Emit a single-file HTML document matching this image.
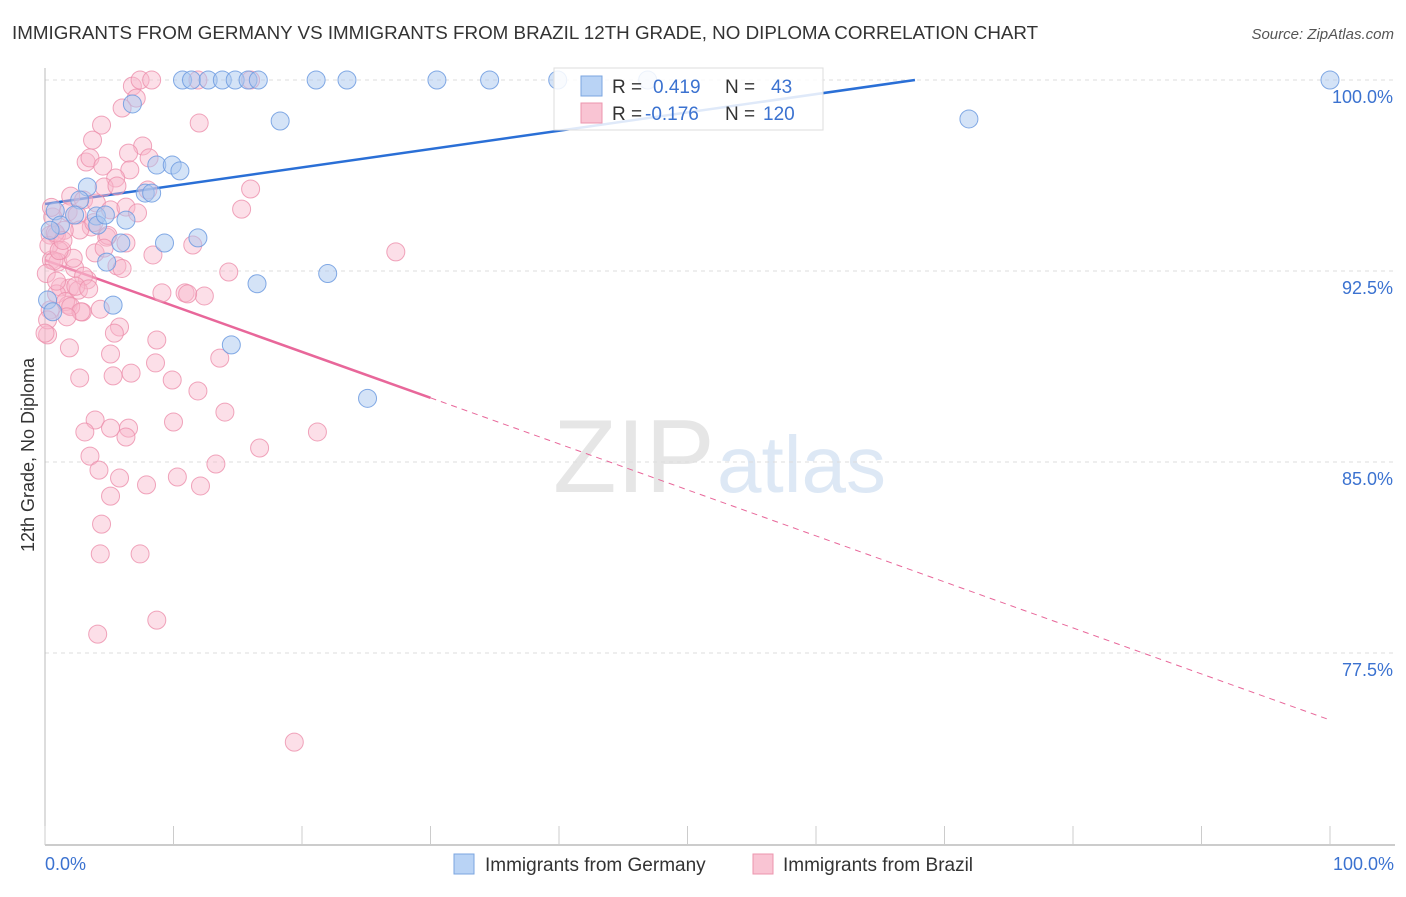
<!DOCTYPE html>
<html><head><meta charset="utf-8"><style>
body{margin:0;background:#fff;font-family:"Liberation Sans",sans-serif}
svg text{font-family:"Liberation Sans",sans-serif}
</style></head><body>
<svg id="chart" width="1406" height="892" viewBox="0 0 1406 892">
<text x="12" y="39" font-size="18.8" fill="#333">IMMIGRANTS FROM GERMANY VS IMMIGRANTS FROM BRAZIL 12TH GRADE, NO DIPLOMA CORRELATION CHART</text>
<text x="1394" y="39" font-size="15" fill="#555" text-anchor="end" font-style="italic">Source: ZipAtlas.com</text>
<text x="34" y="455" font-size="18" fill="#333" text-anchor="middle" transform="rotate(-90 34 455)">12th Grade, No Diploma</text>
<g><text x="553" y="492" font-size="104" fill="#e6e6e6" font-family="Liberation Serif">ZIP</text><text x="717" y="492" font-size="80" fill="#dde8f5">atlas</text></g>
<g id="grid"></g><g id="axes"></g><g id="trends"></g><g id="pts"></g>
<g>
<rect x="554" y="68" width="269" height="62" fill="#fff" fill-opacity="0.85" stroke="#ddd"/>
<rect x="581" y="76" width="21" height="20" fill="#b9d3f5" stroke="#7ba6e0"/>
<rect x="581" y="103" width="21" height="20" fill="#f9c4d3" stroke="#ec95ae"/>
<text x="612" y="93" font-size="19" fill="#333">R =</text><text x="653" y="93" font-size="19" fill="#3b72d0">0.419</text>
<text x="725" y="93" font-size="19" fill="#333">N =</text><text x="771" y="93" font-size="19" fill="#3b72d0">43</text>
<text x="612" y="120" font-size="19" fill="#333">R =</text><text x="645" y="120" font-size="19" fill="#3b72d0">-0.176</text>
<text x="725" y="120" font-size="19" fill="#333">N =</text><text x="763" y="120" font-size="19" fill="#3b72d0">120</text>
</g>
<g>
<rect x="454" y="854" width="20" height="20" fill="#b9d3f5" stroke="#7ba6e0"/>
<text x="485" y="871" font-size="19" fill="#333">Immigrants from Germany</text>
<rect x="753" y="854" width="20" height="20" fill="#f9c4d3" stroke="#ec95ae"/>
<text x="783" y="871" font-size="19" fill="#333">Immigrants from Brazil</text>
</g>
</svg>
<script>
const yTicks=[100,92.5,85,77.5];
const yTickLabels=["100.0%","92.5%","85.0%","77.5%"];
const xTickLabels=["0.0%","100.0%"];
const germanyX=[10.7,11.4,12.7,13.8,14.8,15.8,16.6,21.1,23.5,30.5,34.6,39.9,100,6.8,18.3,71.9,8.7,9.9,10.5,3.3,7.8,8.3,0.8,2.7,4.0,6.3,1.2,4.1,5.9,9.3,11.9,4.8,16.5,22.0,5.3,0.2,0.6,14.5,25.1,46.9,0.4,2.3,4.7];
const germanyY=[100,100,100,100,100,100,100,100,100,100,100,100,100,99.06,98.39,98.47,96.66,96.66,96.43,95.8,95.56,95.56,94.86,95.29,94.66,94.5,94.3,94.3,93.6,93.6,93.8,92.85,92.0,92.4,91.16,91.36,90.9,89.6,87.5,100,94.1,94.7,94.7];
const brazilX=[6.8,7.4,8.3,11.9,16.0,7.1,6.0,4.4,12.0,3.7,7.6,6.5,3.2,3.5,4.5,8.1,6.6,5.5,16.0,4.6,5.6,2.0,3.0,4.0,5.1,6.3,7.2,1.8,2.5,15.3,8.0,0.6,3.6,2.7,0.4,0.9,4.8,6.3,1.3,3.9,8.4,11.5,27.3,0.5,1.0,2.3,3.3,14.3,1.2,1.9,2.6,9.1,10.9,12.4,11.1,0.9,0.4,1.8,2.9,4.3,5.8,5.4,0.2,8.7,1.9,5.1,13.6,2.7,5.3,6.7,8.6,9.9,11.9,14.0,3.9,10.0,5.1,6.5,3.1,6.3,21.2,16.7,3.5,13.3,4.2,5.8,7.9,10.3,12.1,5.1,4.4,4.3,7.4,4.1,8.7,19.4,0.2,0,1.5,2.2,3.0,0.3,0.7,1.6,2.4,4.9,5.6,0.8,1.1,2.0,3.4,0.5,1.4,2.8,0.1,1.7,0.9,3.8,4.6,6.0];
const brazilY=[99.76,100,100,100,100,99.29,98.9,98.23,98.31,97.64,97.41,97.13,96.78,96.94,96.62,96.94,96.47,96.15,95.72,95.8,95.84,95.44,95.29,95.17,94.9,95.01,94.78,94.82,94.7,94.93,95.68,94.62,94.23,94.11,93.91,93.91,93.83,93.6,93.32,93.21,93.13,93.52,93.25,92.93,92.85,92.62,92.15,92.46,91.87,91.83,91.75,91.64,91.64,91.52,91.6,91.6,90.97,91.16,90.89,91.0,90.3,90.06,89.99,89.79,89.48,89.24,89.08,88.3,88.38,88.49,88.89,88.22,87.79,86.96,86.65,86.57,86.33,86.33,86.18,85.98,86.18,85.55,85.23,84.92,84.68,84.37,84.1,84.41,84.06,83.66,82.56,81.39,81.39,78.24,78.79,74.0,90.58,90.06,94.1,93.0,92.3,93.5,92.9,91.3,91.9,93.9,92.7,94.0,93.3,91.1,91.8,95.0,93.7,90.9,92.4,90.7,92.1,94.4,93.4,92.6];
const germanyTrend=[[0,95.13],[67.7,100]];
const brazilTrendSolid=[[0,92.93],[30,87.52]];
const brazilTrendDash=[[30,87.52],[100,74.87]];
const X0=45,X1=1330,Y100=80,PXPER=191/7.5;
const xs=v=>X0+(X1-X0)*v/100;
const ys=v=>Y100+(100-v)*PXPER;
const NS="http://www.w3.org/2000/svg";
function mk(tag,attrs,parent){const e=document.createElementNS(NS,tag);for(const k in attrs)e.setAttribute(k,attrs[k]);parent.appendChild(e);return e;}
const grid=document.getElementById('grid'),axes=document.getElementById('axes'),trends=document.getElementById('trends'),pts=document.getElementById('pts');
yTicks.forEach((t,i)=>{
 const l=mk('line',{x1:45,x2:1395,y1:ys(t),y2:ys(t),stroke:'#ddd','stroke-dasharray':'4,4'},grid);
 
 
 const tx=mk('text',{x:1393,y:ys(t)+23,'font-size':18,fill:'#3b72d0','text-anchor':'end'},axes);
 tx.textContent=yTickLabels[i];
 
 
});
const ya=mk('line',{x1:45,x2:45,y1:68,y2:845,stroke:'#bbb'},axes);


const xa=mk('line',{x1:45,x2:1395,y1:845,y2:845,stroke:'#bbb','stroke-width':1.5},axes);


for(let i=0;i<=10;i++){const t=mk('line',{x1:xs(i*10),x2:xs(i*10),y1:826,y2:845,stroke:'#ccc'},axes);
 
 }
[[0,'start',45],[100,'end',1394]].forEach((d,i)=>{const t=mk('text',{x:d[2],y:870,'font-size':18,fill:'#3b72d0','text-anchor':d[1]},axes);t.textContent=xTickLabels[i];
 
 });
function line(p,c,w,dash,name){const l=mk('line',{x1:xs(p[0][0]),y1:ys(p[0][1]),x2:xs(p[1][0]),y2:ys(p[1][1]),stroke:c,'stroke-width':w},trends);if(dash)l.setAttribute('stroke-dasharray',dash);
 
 }
line(germanyTrend,'#2a6fd6',2.5,null,'germany-trend-line');
line(brazilTrendSolid,'#e8679a',2.5,null,'brazil-trend-line');
line(brazilTrendDash,'#e8679a',1,'6,5','brazil-trend-extension');
brazilX.forEach((x,i)=>{const c=mk('circle',{cx:xs(x),cy:ys(brazilY[i]),r:9,fill:'#f9b8cb','fill-opacity':0.45,stroke:'#ec8fab','stroke-opacity':0.8},pts);
 
 });
germanyX.forEach((x,i)=>{const c=mk('circle',{cx:xs(x),cy:ys(germanyY[i]),r:9,fill:'#a9c8f0','fill-opacity':0.5,stroke:'#6d9be0','stroke-opacity':0.85},pts);
 
 });
</script>
</body></html>
